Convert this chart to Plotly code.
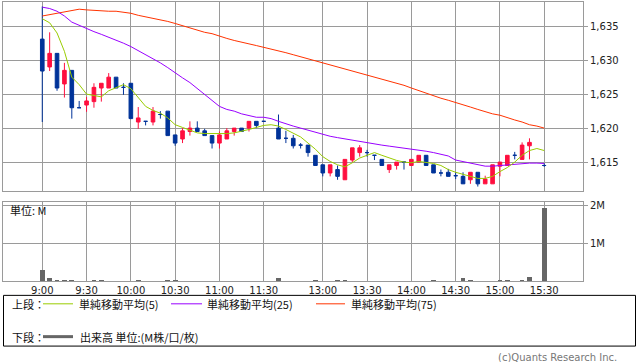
import plotly.graph_objects as go

W, H = 638, 362

# ---- data (5-minute slots, 9:00 .. 15:30) ----
slots = list(range(69))
time_ticks = [0, 6, 12, 18, 24, 30, 38, 44, 50, 56, 62, 68]
time_labels = ["9:00", "9:30", "10:00", "10:30", "11:00", "11:30",
               "13:00", "13:30", "14:00", "14:30", "15:00", "15:30"]

opens = [1633.1, 1629.0, 1631.0, 1626.5, 1628.5, 1623.0, 1623.4, 1623.9, 1625.9, 1625.9,
         1627.5, 1626.0, 1626.6, 1620.9, 1621.0, 1620.9, 1622.0, 1622.5, 1619.0, 1618.4,
         1619.5, 1620.0, 1619.6, 1618.9, 1617.8, 1618.4, 1619.5, 1620.0, 1620.0, 1621.0,
         1621.0, None, 1620.0, 1618.5, 1618.5, 1617.5, 1617.5, 1616.0, 1614.6, 1613.4,
         1613.9, 1612.4, 1615.3, 1616.4, 1616.4, 1616.0, 1615.4, 1613.9, 1614.5, 1615.0,
         1614.5, 1615.0, 1616.0, 1614.6, 1613.4, 1613.5, 1613.0, 1612.9, 1612.4, 1613.5,
         1611.8, 1611.8, 1614.4, 1614.5, 1616.0, 1615.4, 1617.4, None, 1614.5]
highs = [1637.9, 1634.1, 1631.0, 1629.6, 1628.5, 1624.0, 1624.6, 1626.6, 1626.6, 1628.1,
         1627.5, 1626.6, 1626.6, 1623.1, 1621.0, 1623.1, 1622.5, 1622.5, 1619.0, 1620.0,
         1621.0, 1621.0, 1619.9, 1618.9, 1619.5, 1620.0, 1620.0, 1620.0, 1621.0, 1621.0,
         1621.0, None, 1622.0, 1619.6, 1619.0, 1617.8, 1617.5, 1616.0, 1614.6, 1614.6,
         1614.5, 1615.4, 1617.1, 1617.5, 1616.8, 1616.0, 1615.4, 1614.6, 1615.0, 1615.0,
         1615.4, 1616.0, 1616.0, 1614.6, 1613.9, 1614.0, 1613.5, 1613.5, 1613.5, 1613.5,
         1613.0, 1614.6, 1615.0, 1616.0, 1616.5, 1617.9, 1618.5, None, 1614.8]
lows = [1620.9, 1628.4, 1625.5, 1624.5, 1621.4, 1623.0, 1622.4, 1623.0, 1623.9, 1625.9,
        1625.9, 1624.9, 1621.4, 1619.9, 1620.4, 1620.4, 1621.4, 1618.9, 1617.4, 1617.8,
        1618.9, 1619.5, 1618.9, 1617.0, 1617.0, 1618.4, 1618.9, 1619.5, 1619.5, 1620.0,
        1621.0, None, 1618.4, 1617.8, 1617.0, 1617.0, 1615.8, 1614.5, 1612.9, 1612.9,
        1612.4, 1612.4, 1615.0, 1615.8, 1615.8, 1615.3, 1614.5, 1613.4, 1613.9, 1613.9,
        1614.5, 1615.0, 1614.5, 1613.4, 1612.9, 1612.9, 1612.5, 1611.8, 1611.8, 1611.4,
        1611.8, 1611.8, 1612.9, 1614.5, 1615.4, 1615.4, 1615.4, None, 1614.3]
closes = [1628.4, 1631.0, 1625.9, 1628.5, 1623.0, 1623.0, 1624.0, 1626.0, 1626.6, 1627.5,
          1625.9, 1626.0, 1621.4, 1621.5, 1621.0, 1622.5, 1622.0, 1618.9, 1617.8, 1619.6,
          1620.0, 1619.5, 1618.9, 1617.8, 1619.0, 1619.6, 1620.0, 1619.5, 1621.0, 1620.4,
          1621.0, None, 1618.4, 1618.5, 1617.4, 1617.5, 1616.4, 1614.5, 1613.4, 1614.6,
          1612.9, 1615.4, 1617.1, 1617.1, 1616.4, 1616.0, 1614.5, 1614.6, 1615.0, 1615.0,
          1615.4, 1616.0, 1614.5, 1613.4, 1613.4, 1612.9, 1613.0, 1611.8, 1613.5, 1611.8,
          1612.5, 1614.6, 1615.0, 1616.0, 1616.0, 1617.5, 1617.9, None, 1614.5]

ma5 = [1636.1, 1635.5, 1634.0, 1631.3, 1627.5, 1626.4, 1625.0, 1624.8, 1624.6, 1625.5,
       1625.9, 1626.4, 1625.8, 1624.5, 1623.2, 1622.6, 1622.2, 1621.5, 1620.5, 1620.1,
       1619.75, 1619.3, 1619.2, 1619.2, 1619.1, 1619.2, 1619.3, 1619.5, 1619.8, 1620.1,
       1620.4, 1620.5, 1620.3, 1619.8, 1619.3, 1618.7, 1617.8, 1616.9, 1615.8, 1615.1,
       1614.6, 1614.3, 1614.9, 1615.6, 1616.0, 1616.4, 1616.0, 1615.6, 1615.25, 1615.0,
       1614.9, 1615.1, 1615.0, 1614.8, 1614.5, 1613.9, 1613.5, 1613.2, 1612.8, 1612.6,
       1612.6, 1612.9, 1613.6, 1614.2, 1615.0, 1616.0, 1616.7, 1617.0, 1616.7]
ma25 = [1637.8, 1637.6, 1637.2, 1636.5, 1635.6, 1635.1, 1634.7, 1634.2, 1633.8, 1633.4,
        1633.0, 1632.5, 1632.0, 1631.4, 1630.8, 1630.25, 1629.6, 1628.9, 1628.1, 1627.4,
        1626.7, 1625.8, 1624.95, 1624.1, 1623.2, 1622.75, 1622.5, 1622.1, 1621.8, 1621.6,
        1621.6, 1621.4, 1621.0, 1620.6, 1620.3, 1620.0, 1619.7, 1619.3, 1619.1, 1618.8,
        1618.6, 1618.4, 1618.2, 1618.0, 1617.8, 1617.7, 1617.5, 1617.35, 1617.2, 1617.1,
        1617.0, 1616.8, 1616.6, 1616.4, 1616.1, 1615.9, 1615.3, 1615.1, 1614.85, 1614.6,
        1614.4, 1614.4, 1614.5, 1614.65, 1614.75, 1614.8, 1614.85, 1614.85, 1614.8]
ma75 = [1636.5, 1636.7, 1636.9, 1637.2, 1637.3, 1637.5, 1637.4, 1637.3, 1637.3, 1637.2,
        1637.2, 1637.1, 1636.9, 1636.6, 1636.4, 1636.2, 1636.0, 1635.7, 1635.4, 1635.05,
        1634.75, 1634.4, 1634.1, 1633.9, 1633.5, 1633.2, 1632.9, 1632.6, 1632.4, 1632.15,
        1631.9, 1631.7, 1631.4, 1631.1, 1630.8, 1630.5, 1630.25, 1629.95, 1629.6, 1629.3,
        1629.0, 1628.7, 1628.4, 1628.1, 1627.8, 1627.5, 1627.2, 1626.9, 1626.6, 1626.3,
        1625.9, 1625.5, 1625.1, 1624.7, 1624.4, 1624.1, 1623.8, 1623.5, 1623.1, 1622.75,
        1622.4, 1622.1, 1621.9, 1621.5, 1621.2, 1620.9, 1620.5, 1620.3, 1620.0]

volume_m = [0.30, 0.065, 0.035, 0.035, 0.035, 0.01, 0.01, 0.035, 0.035, 0.01,
            0.01, 0.01, 0.01, 0.035, 0.01, 0.01, 0.01, 0.035, 0.035, 0.01,
            0.01, 0.01, 0.01, 0.01, 0.01, 0.01, 0.01, 0.01, 0.01, 0.01,
            0.01, 0.0, 0.065, 0.01, 0.01, 0.01, 0.01, 0.035, 0.01, 0.01,
            0.035, 0.035, 0.01, 0.01, 0.01, 0.01, 0.01, 0.01, 0.01, 0.01,
            0.01, 0.01, 0.01, 0.035, 0.01, 0.01, 0.01, 0.075, 0.035, 0.01,
            0.01, 0.01, 0.035, 0.035, 0.01, 0.035, 0.10, 0.0, 1.95]

price_ticks = [1615, 1620, 1625, 1630, 1635]
vol_ticks = [1, 2]
vol_labels = ["1M", "2M"]

# ---- styles ----
RED = "#ff0f3f"
BLUE = "#003399"
GRID = "#9a9a9a"
C5, C25, C75 = "#99cc00", "#9900ff", "#ff3300"
VOLC = "#666666"
FONT = "DejaVu Sans"
JFONT = "Noto Sans CJK JP"


def fx(px):
    return px / W


def fy(py):
    return 1 - py / H


up = [c is not None and c > o for o, c in zip(opens, closes)]
down = [(o is not None) and not u for o, u in zip(opens, up)]


def pick(vals, mask):
    return [v if m else None for v, m in zip(vals, mask)]


fig = go.Figure()
for mask, col in ((up, RED), (down, BLUE)):
    fig.add_trace(go.Candlestick(
        x=slots, open=pick(opens, mask), high=pick(highs, mask),
        low=pick(lows, mask), close=pick(closes, mask),
        increasing=dict(line=dict(color=col, width=1), fillcolor=col),
        decreasing=dict(line=dict(color=col, width=1), fillcolor=col),
        xaxis="x", yaxis="y", hoverinfo="skip", showlegend=False))

for vals, col in ((ma75, C75), (ma25, C25), (ma5, C5)):
    fig.add_trace(go.Scatter(x=slots, y=vals, mode="lines",
                             line=dict(color=col, width=1),
                             xaxis="x", yaxis="y", hoverinfo="skip", showlegend=False))

fig.add_trace(go.Bar(x=slots, y=volume_m, width=0.64, marker=dict(color=VOLC, line=dict(width=0)),
                     xaxis="x2", yaxis="y2", hoverinfo="skip", showlegend=False))

xrange = [-5.32, 73.25]
xdom = [fx(3), fx(583)]
common_x = dict(domain=xdom, range=xrange, tickvals=time_ticks, showgrid=True,
                gridcolor=GRID, gridwidth=1, zeroline=False, showline=True, mirror=True,
                linecolor=GRID, linewidth=1, fixedrange=True)

fig.update_layout(
    width=W, height=H, margin=dict(l=0, r=0, t=0, b=0),
    paper_bgcolor="white", plot_bgcolor="white",
    showlegend=False, bargap=0, boxgap=0.3,
    xaxis=dict(**common_x, anchor="y", showticklabels=False, rangeslider=dict(visible=False)),
    xaxis2=dict(**common_x, anchor="y2", ticktext=time_labels, ticks="",
                tickfont=dict(family=FONT, size=10, color="#222")),
    yaxis=dict(domain=[fy(190.3), 1.0], range=[1610.71, 1638.56], side="right",
               tickvals=price_ticks, tickformat=",d", ticks="outside", ticklen=4,
               tickcolor=GRID, showgrid=True, gridcolor=GRID, zeroline=False,
               showline=True, mirror=True, linecolor=GRID, anchor="x",
               tickfont=dict(family=FONT, size=10, color="#222"), fixedrange=True),
    yaxis2=dict(domain=[fy(280.5), fy(201)], range=[0, 2.1], side="right",
                tickvals=vol_ticks, ticktext=vol_labels, ticks="outside", ticklen=4,
                tickcolor=GRID, showgrid=True, gridcolor=GRID, zeroline=False,
                showline=True, mirror=True, linecolor=GRID, anchor="x2",
                tickfont=dict(family=FONT, size=10, color="#222"), fixedrange=True),
)

annotations = [
    dict(text="単位: M", x=fx(8), y=fy(209.5), xanchor="left", yanchor="middle",
         font=dict(family=JFONT, size=11, color="#111")),
    dict(text="上段：", x=fx(10), y=fy(303.5), xanchor="left", yanchor="middle",
         font=dict(family=JFONT, size=11, color="#111")),
    dict(text="単純移動平均(5)", x=fx(77), y=fy(303.5), xanchor="left", yanchor="middle",
         font=dict(family=JFONT, size=11, color="#111")),
    dict(text="単純移動平均(25)", x=fx(205), y=fy(303.5), xanchor="left", yanchor="middle",
         font=dict(family=JFONT, size=11, color="#111")),
    dict(text="単純移動平均(75)", x=fx(349), y=fy(303.5), xanchor="left", yanchor="middle",
         font=dict(family=JFONT, size=11, color="#111")),
    dict(text="下段：", x=fx(10), y=fy(337), xanchor="left", yanchor="middle",
         font=dict(family=JFONT, size=11, color="#111")),
    dict(text="出来高 単位:(M株/口/枚)", x=fx(78), y=fy(337), xanchor="left", yanchor="middle",
         font=dict(family=JFONT, size=11, color="#111")),
    dict(text="(c)Quants Research Inc.", x=fx(619), y=fy(357.5), xanchor="right", yanchor="middle",
         font=dict(family=FONT, size=10, color="#777")),
]
for a in annotations:
    a.update(xref="paper", yref="paper", showarrow=False)
fig.update_layout(annotations=annotations)

shapes = [
    dict(type="rect", x0=fx(3.5), x1=fx(635.5), y0=fy(346), y1=fy(295),
         line=dict(color="#000", width=1)),
    dict(type="line", x0=fx(43), x1=fx(73), y0=fy(303.5), y1=fy(303.5), line=dict(color=C5, width=1)),
    dict(type="line", x0=fx(171), x1=fx(202), y0=fy(303.5), y1=fy(303.5), line=dict(color=C25, width=1)),
    dict(type="line", x0=fx(316), x1=fx(345), y0=fy(303.5), y1=fy(303.5), line=dict(color=C75, width=1)),
    dict(type="line", x0=fx(43), x1=fx(73), y0=fy(336.5), y1=fy(336.5), line=dict(color=VOLC, width=3)),
]
for s in shapes:
    s.update(xref="paper", yref="paper")
fig.update_layout(shapes=shapes)

fig.write_html("out.html", config={"staticPlot": True},
               post_script="document.body.style.margin='0';document.body.style.overflow='hidden';")
